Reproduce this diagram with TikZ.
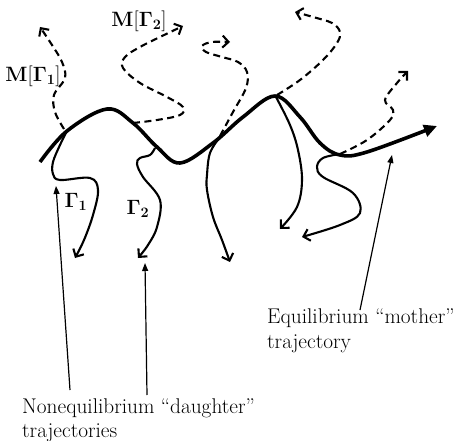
\documentclass[tikz,border=0pt]{standalone}
\usetikzlibrary{arrows.meta}
\begin{document}
\begin{tikzpicture}[x=1pt,y=-1pt,
  mother/.style={line width=3.6pt,-{Triangle[length=13pt,width=12pt]}},
  daughter/.style={line width=2.1pt,-{Straight Barb[length=6pt,width=12pt]}},
  mapped/.style={line width=2.1pt,dash pattern=on 7pt off 4.5pt,-{Straight Barb[length=6pt,width=12pt]}},
  pointer/.style={line width=1.2pt,-{Triangle[length=8pt,width=6pt]}},
  lbl/.style={font=\fontsize{21.3}{26}\selectfont,inner sep=0pt,anchor=base west},
  glab/.style={font=\fontsize{19.5}{24}\selectfont,inner sep=0pt}]
\useasboundingbox (0,0) rectangle (458,441);
% mother trajectory
\draw[mother] plot[smooth,tension=0.6] coordinates {(40,162) (67,131) (107,109) (133,123) (157,147) (180,163) (213,143) (243,117) (275,96) (300,117) (320,143) (340,155) (367,152) (437,126)};
% mapped (dashed) trajectories
\draw[mapped] plot[smooth,tension=0.6] coordinates {(64,129) (55,112) (54,95) (65,78) (62,62) (52,45) (40,27)};
\draw[mapped] plot[smooth,tension=0.6] coordinates {(133,123) (157,120) (180,115) (183,107) (167,97) (140,83) (123,68) (125,57) (140,47) (160,37) (183,26)};
\draw[mapped] plot[smooth,tension=0.6] coordinates {(220,136) (233,112) (246,88) (247,72) (238,62) (222,57) (206,52) (202,46) (212,42) (230,42)};
\draw[mapped] plot[smooth,tension=0.6] coordinates {(277,95) (300,80) (323,60) (337,43) (340,32) (332,23) (313,17) (295,12)};
\draw[mapped] plot[smooth,tension=0.6] coordinates {(340,154) (367,140) (390,120) (393,110) (385,100) (397,83) (408,71)};
% daughter trajectories
\draw[daughter] plot[smooth,tension=0.6] coordinates {(67,131) (60,145) (53,162) (53,174) (60,180) (90,178) (98,190) (93,215) (84,240) (75,258)};
\draw[daughter] plot[smooth,tension=0.6] coordinates {(155,148) (150,155) (140,158) (137,164) (143,177) (160,200) (157,227) (148,245) (138,258)};
\draw[daughter] plot[smooth,tension=0.6] coordinates {(220,137) (210,153) (207,175) (207,190) (213,217) (222,240) (230,262)};
\draw[daughter] plot[smooth,tension=0.6] coordinates {(276,97) (290,125) (298,150) (302,180) (297,207) (280,229)};
\draw[daughter] plot[smooth,tension=0.6] coordinates {(340,154) (323,158) (317,167) (323,177) (353,193) (360,213) (340,225) (302,237)};
% labels
\node[glab] (m1) at (33,76) {$\mathbf{M}[\mathbf{\Gamma}_{\mathbf{1}}]$};
\node[glab] (m2) at (139,21) {$\mathbf{M}[\mathbf{\Gamma}_{\mathbf{2}}]$};
\node[glab] (g1) at (76,202) {$\mathbf{\Gamma}_{\mathbf{1}}$};
\node[glab] (g2) at (138,209) {$\mathbf{\Gamma}_{\mathbf{2}}$};
\node[lbl] (n1) at (22,413) {Nonequilibrium ``daughter''};
\node[lbl] (n2) at (22,437) {trajectories};
\node[lbl] (e1) at (267,323) {Equilibrium ``mother''};
\node[lbl] (e2) at (267,348) {trajectory};
% pointers
\coordinate (p1s) at (70,390); \coordinate (p1e) at (56,186);
\coordinate (p2s) at (147,395); \coordinate (p2e) at (145,263);
\coordinate (p3s) at (360,310); \coordinate (p3e) at (392,155);
\draw[pointer] (p1s) -- (p1e);
\draw[pointer] (p2s) -- (p2e);
\draw[pointer] (p3s) -- (p3e);
\end{tikzpicture}
\end{document}
